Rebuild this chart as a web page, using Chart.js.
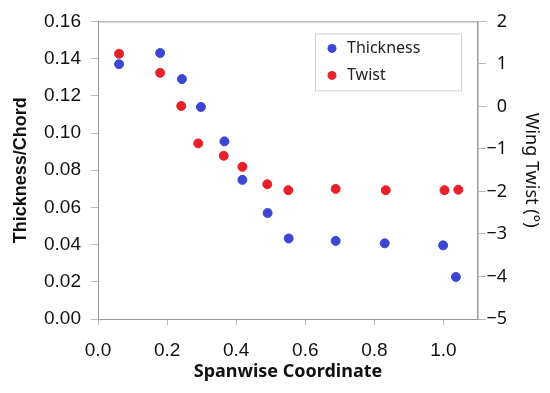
<!DOCTYPE html>
<html>
<head>
<meta charset="utf-8">
<script src="https://cdn.jsdelivr.net/npm/chart.js@4.4.0/dist/chart.umd.min.js"></script>
<style>
  html, body { margin: 0; padding: 0; background: #fff; }
  #wrap { width: 550px; height: 393px; }
</style>
</head>
<body>
<div id="wrap"><canvas id="myChart"></canvas></div>
<script>
// values
const thickX = [0.061, 0.180, 0.243, 0.298, 0.366, 0.418, 0.491, 0.552, 0.688, 0.830, 0.999, 1.036];
const thickness = [0.137, 0.143, 0.129, 0.114, 0.0955, 0.0748, 0.057, 0.0433, 0.042, 0.0407, 0.0396, 0.0226];
const twistX = [0.061, 0.180, 0.241, 0.290, 0.364, 0.418, 0.490, 0.551, 0.688, 0.833, 1.003, 1.043];
const twist = [1.24, 0.79, 0.01, -0.87, -1.16, -1.42, -1.83, -1.97, -1.94, -1.97, -1.97, -1.96];

const blue = 'rgb(60, 70, 210)';
const red = 'rgb(232, 32, 42)';
const axisGrey = '#9a9a9a';

const data = {
  datasets: [{
    label: 'Thickness',
    data: thickX.map((x, i) => ({x: x, y: thickness[i]})),
    backgroundColor: blue,
    borderColor: blue,
    pointRadius: 4.5,
    yAxisID: 'y'
  }, {
    label: 'Twist',
    data: twistX.map((x, i) => ({x: x, y: twist[i]})),
    backgroundColor: red,
    borderColor: red,
    pointRadius: 4.5,
    yAxisID: 'y2'
  }]
};

// top border of the plot box + boxed legend inside the plot
const boxPlugin = {
  id: 'boxPlugin',
  afterDraw(chart) {
    const ctx = chart.ctx;
    const a = chart.chartArea;
    ctx.save();
    ctx.strokeStyle = axisGrey;
    ctx.lineWidth = 1;
    ctx.beginPath();
    ctx.moveTo(a.left, a.top + 0.5);
    ctx.lineTo(a.right, a.top + 0.5);
    ctx.stroke();

    const lx = a.left + 217, ly = a.top + 12;
    ctx.strokeStyle = '#cfcfcf';
    ctx.strokeRect(lx + 0.5, ly + 0.5, 146, 57);
    ctx.font = '16px "Noto Sans"';
    ctx.textBaseline = 'middle';
    chart.data.datasets.forEach((ds, i) => {
      const cy = ly + 15 + i * 27;
      ctx.beginPath();
      ctx.fillStyle = ds.backgroundColor;
      ctx.arc(lx + 17, cy, 4.5, 0, Math.PI * 2);
      ctx.fill();
      ctx.fillStyle = '#222';
      ctx.fillText(ds.label, lx + 32, cy);
    });
    ctx.restore();
  }
};

const config = {
  type: 'scatter',
  data: data,
  options: {
    responsive: true,
    maintainAspectRatio: false,
    animation: false,
    layout: { padding: { top: 19, left: 0, right: 0, bottom: 0 } },
    plugins: {
      legend: { display: false },
      tooltip: { enabled: false }
    },
    scales: {
      x: {
        type: 'linear',
        min: 0,
        max: 1.1,
        afterFit(s) { s.height = 74; },
        border: { color: axisGrey },
        grid: { drawOnChartArea: false, tickLength: 6, color: '#bbb' },
        ticks: {
          stepSize: 0.2,
          includeBounds: false,
          maxRotation: 0,
          padding: 14,
          color: '#111',
          font: { family: '"Liberation Sans", Arial', size: 19 },
          callback: v => v.toFixed(1)
        },
        title: {
          display: true,
          text: 'Spanwise Coordinate',
          color: '#111',
          font: { family: '"Noto Sans"', size: 18, weight: 'bold' },
          padding: { top: 0, bottom: 10 }
        }
      },
      y: {
        position: 'left',
        min: 0,
        max: 0.16,
        afterFit(s) { s.width = 98; },
        border: { color: axisGrey },
        grid: { drawOnChartArea: false, tickLength: 7, color: '#bbb' },
        ticks: {
          stepSize: 0.02,
          padding: 10,
          color: '#111',
          font: { family: '"Liberation Sans", Arial', size: 19 },
          callback: v => v.toFixed(2)
        },
        title: {
          display: true,
          text: 'Thickness/Chord',
          color: '#111',
          font: { family: '"Liberation Sans", Arial', size: 18, weight: 'bold' },
          padding: { top: 10, bottom: 0 }
        }
      },
      y2: {
        position: 'right',
        weight: 0,
        min: -5,
        max: 2,
        afterFit(s) { s.width = 29; },
        border: { color: axisGrey, width: 1.5 },
        grid: { drawOnChartArea: false, tickLength: 8, color: '#bbb' },
        ticks: {
          stepSize: 1,
          padding: 1,
          crossAlign: 'far',
          color: '#111',
          font: { family: '"Noto Sans"', size: 18 },
          callback: v => (v < 0 ? '\u2212' + Math.abs(v) : String(v))
        }
      },
      // outer right axis only carries the title
      yTitle: {
        position: 'right',
        weight: 1,
        min: -5,
        max: 2,
        afterFit(s) { s.width = 43; },
        border: { display: false },
        grid: { display: false },
        ticks: { display: false },
        title: {
          display: true,
          text: 'Wing Twist (°)',
          color: '#111',
          font: { family: '"Noto Sans"', size: 18 },
          padding: { top: 8, bottom: 0 }
        }
      }
    }
  },
  plugins: [boxPlugin]
};

const myChart = new Chart(
  document.getElementById('myChart'),
  config
);
</script>
</body>
</html>
